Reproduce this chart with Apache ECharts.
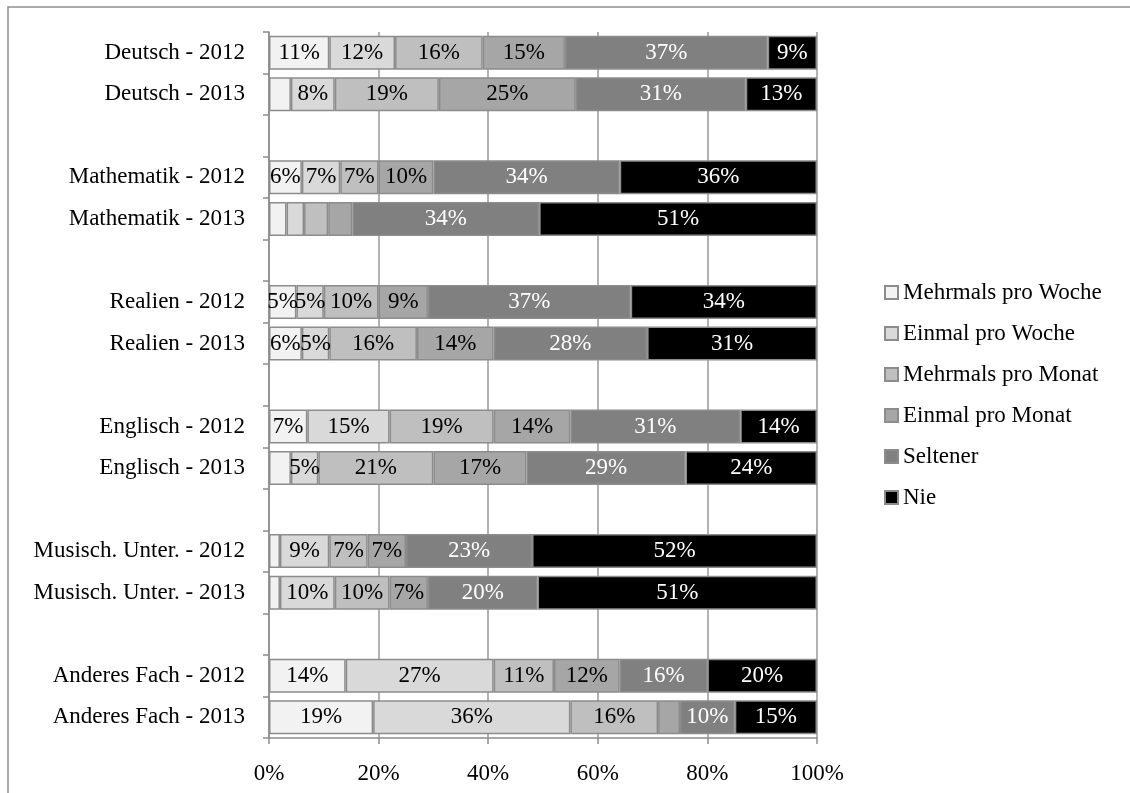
<!DOCTYPE html>
<html>
<head>
<meta charset="utf-8">
<script src="https://cdn.jsdelivr.net/npm/echarts@6/dist/echarts.min.js"></script>
<style>html,body{margin:0;padding:0;background:#fff;}#c{width:1130px;height:793px;}</style>
</head>
<body>
<div id="c"></div>
<script>
const categories = ['Deutsch - 2012','Deutsch - 2013',' ','Mathematik - 2012','Mathematik - 2013','  ',
  'Realien - 2012','Realien - 2013','   ','Englisch - 2012','Englisch - 2013','    ',
  'Musisch. Unter. - 2012','Musisch. Unter. - 2013','     ','Anderes Fach - 2012','Anderes Fach - 2013'];
const seriesNames = ['Mehrmals pro Woche','Einmal pro Woche','Mehrmals pro Monat','Einmal pro Monat','Seltener','Nie'];
const mehrmalsWoche = [11,4,'-',6,3.2,'-',5,6,'-',7,4,'-',2,2,'-',14,19];
const einmalWoche   = [12,8,'-',7,3.2,'-',5,5,'-',15,5,'-',9,10,'-',27,36];
const mehrmalsMonat = [16,19,'-',7,4.4,'-',10,16,'-',19,21,'-',7,10,'-',11,16];
const einmalMonat   = [15,25,'-',10,4.4,'-',9,14,'-',14,17,'-',7,7,'-',12,4];
const seltener      = [37,31,'-',34,34.1,'-',37,28,'-',31,29,'-',23,20,'-',16,10];
const nie           = [9,13,'-',36,50.7,'-',34,31,'-',14,24,'-',52,51,'-',20,15];
const xTicks = [0,20,40,60,80,100];

const values = [mehrmalsWoche, einmalWoche, mehrmalsMonat, einmalMonat, seltener, nie];
const colors = ['#f2f2f2','#d9d9d9','#bfbfbf','#a6a6a6','#808080','#000000'];
const labelColors = ['#000','#000','#000','#000','#fff','#fff'];
const FONT = '"Liberation Serif", "DejaVu Serif", serif';
const FS = 23;

const chart = echarts.init(document.getElementById('c'));
chart.setOption({
  animation: false,
  textStyle: { fontFamily: FONT },
  graphic: [{
    type: 'rect', shape: { x: 8, y: 7, width: 1300, height: 900 },
    style: { fill: 'none', stroke: '#8f8f8f', lineWidth: 1.5 }, silent: true
  }],
  legend: {
    orient: 'vertical', left: 879, top: 276,
    itemWidth: 13, itemHeight: 13, itemGap: 18, icon: 'rect',
    data: seriesNames,
    textStyle: { fontFamily: FONT, fontSize: FS, color: '#000', lineHeight: 22 }
  },
  grid: { left: 269, right: 313, top: 32, height: 706 },
  xAxis: {
    type: 'value', min: 0, max: 100, interval: 20,
    axisLine: { show: true, lineStyle: { color: '#8c8c8c', width: 1.5 } },
    axisTick: { show: true, length: 6, lineStyle: { color: '#8c8c8c', width: 1.5 } },
    splitLine: { show: true, lineStyle: { color: '#999', width: 1.5 } },
    axisLabel: { formatter: v => xTicks.includes(v) ? v + '%' : '', fontFamily: FONT, fontSize: FS, color: '#000', margin: 24 }
  },
  yAxis: {
    type: 'category', data: categories, inverse: true,
    axisLine: { show: true, lineStyle: { color: '#8c8c8c', width: 1.5 } },
    axisTick: { show: true, length: 6, lineStyle: { color: '#8c8c8c', width: 1.5 } },
    axisLabel: { fontFamily: FONT, fontSize: FS, color: '#000', margin: 24 }
  },
  series: seriesNames.map((name, i) => ({
    name, type: 'bar', stack: 'total', barWidth: 34,
    data: values[i],
    itemStyle: { color: colors[i], borderColor: '#8c8c8c', borderWidth: 1.5 },
    label: {
      show: true, position: 'inside', color: labelColors[i],
      fontFamily: FONT, fontSize: FS,
      formatter: p => (typeof p.value === 'number' && p.value >= 4.75) ? Math.round(p.value) + '%' : ''
    }
  }))
});
</script>
</body>
</html>
